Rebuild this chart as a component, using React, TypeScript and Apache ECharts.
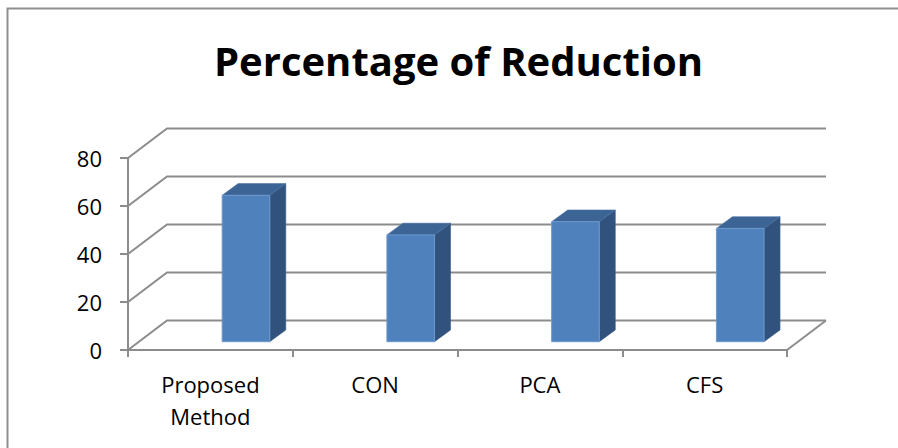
import React, { useEffect, useRef } from "react";
import * as echarts from "echarts";

// Chart data
const categories = ["Proposed\nMethod", "CON", "PCA", "CFS"];
const reduction = [61, 44.5, 50, 47.2];
const yTicks = [0, 20, 40, 60, 80];

// 3D projection settings (pixels)
const WALL_DX = 39; // offset from front plane to back wall
const WALL_DY = -29.5;
const BAR_FRONT_DY = -8.3; // bar front face sits slightly into the floor
const BAR_DEPTH_DX = 16; // bar depth
const BAR_DEPTH_DY = -11.7;
const BAR_OFFSET_RATIO = 0.0716; // front-face left edge, relative to band centre
const BAR_WIDTH_RATIO = 0.289;

const GRID_COLOR = "#8c8c8c";
const FRONT_COLOR = "#4f81bd";
const TOP_COLOR = "#3c6494";
const SIDE_COLOR = "#31527c";
const FONT = "'Open Sans', 'Noto Sans', sans-serif";

export default function App() {
  const ref = useRef<HTMLDivElement>(null);

  useEffect(() => {
    document.body.style.margin = "0";
    if (!ref.current) return;
    const chart = echarts.init(ref.current, undefined, { renderer: "svg" });

    const wallSeries = {
      type: "custom",
      silent: true,
      clip: false,
      z: 1,
      data: yTicks.map((v) => [0, v]),
      renderItem: (params: any, api: any) => {
        const cs = params.coordSys;
        const x0 = cs.x;
        const x1 = cs.x + cs.width;
        const y = api.coord([0, api.value(1)])[1];
        const style = { stroke: GRID_COLOR, lineWidth: 2, fill: "none" };
        const children: any[] = [
          {
            type: "polyline",
            shape: {
              points: [
                [x0, y],
                [x0 + WALL_DX, y + WALL_DY],
                [x1 + WALL_DX, y + WALL_DY],
              ],
            },
            style,
          },
        ];
        if (api.value(1) === 0) {
          children.push({
            type: "line",
            shape: { x1: x1, y1: y, x2: x1 + WALL_DX, y2: y + WALL_DY },
            style,
          });
        }
        return { type: "group", children };
      },
    };

    const barSeries = {
      type: "custom",
      clip: false,
      z: 3,
      data: reduction.map((v, i) => [i, v]),
      renderItem: (_params: any, api: any) => {
        const i = api.value(0);
        const v = api.value(1);
        const top = api.coord([i, v]);
        const base = api.coord([i, 0]);
        const band = api.size([1, 0])[0];
        const xL = base[0] + BAR_OFFSET_RATIO * band;
        const xR = xL + BAR_WIDTH_RATIO * band;
        const yT = top[1] + BAR_FRONT_DY;
        const yB = base[1] + BAR_FRONT_DY;
        const dx = BAR_DEPTH_DX;
        const dy = BAR_DEPTH_DY;
        return {
          type: "group",
          children: [
            {
              type: "polygon",
              shape: {
                points: [
                  [xR, yT],
                  [xR + dx, yT + dy],
                  [xR + dx, yB + dy],
                  [xR, yB],
                ],
              },
              style: { fill: SIDE_COLOR, stroke: "#3a5f8c", lineWidth: 0.6 },
            },
            {
              type: "polygon",
              shape: {
                points: [
                  [xL, yT],
                  [xR, yT],
                  [xR + dx, yT + dy],
                  [xL + dx, yT + dy],
                ],
              },
              style: { fill: TOP_COLOR, stroke: "#4670a3", lineWidth: 0.6 },
            },
            {
              type: "rect",
              shape: { x: xL, y: yT, width: xR - xL, height: yB - yT },
              style: { fill: FRONT_COLOR, stroke: "#6d98cc", lineWidth: 1 },
            },
          ],
        };
      },
    };

    chart.setOption({
      animation: false,
      backgroundColor: "#ffffff",
      grid: { left: 128, top: 158, width: 659, height: 192, containLabel: false },
      graphic: [
        {
          type: "text",
          x: 458.5,
          y: 60,
          style: {
            text: "Percentage of Reduction",
            font: `bold 40px ${FONT}`,
            fill: "#000",
            align: "center",
            verticalAlign: "middle",
          },
        },
        {
          type: "polyline",
          shape: { points: [[7.5, 448], [7.5, 8.5], [898, 8.5]] },
          style: { stroke: "#8f8f8f", lineWidth: 2, fill: "none" },
        },
      ],
      xAxis: {
        type: "category",
        data: categories,
        boundaryGap: true,
        axisLine: { show: true, lineStyle: { color: GRID_COLOR, width: 2 } },
        axisTick: { show: true, length: 7, lineStyle: { color: GRID_COLOR, width: 2 } },
        axisLabel: {
          color: "#000",
          fontFamily: FONT,
          fontSize: 22,
          lineHeight: 32,
          margin: 18,
          interval: 0,
        },
        splitLine: { show: false },
      },
      yAxis: {
        type: "value",
        min: 0,
        max: 80,
        interval: 20,
        axisLine: { show: true, lineStyle: { color: GRID_COLOR, width: 2 } },
        axisTick: { show: true, length: 8, lineStyle: { color: GRID_COLOR, width: 2 } },
        axisLabel: {
          color: "#000",
          fontFamily: FONT,
          fontSize: 22,
          margin: 26,
          padding: [4, 0, 0, 0],
        },
        splitLine: { show: false },
      },
      series: [wallSeries, barSeries],
    });

    return () => chart.dispose();
  }, []);

  return <div ref={ref} style={{ width: 898, height: 448 }} />;
}
